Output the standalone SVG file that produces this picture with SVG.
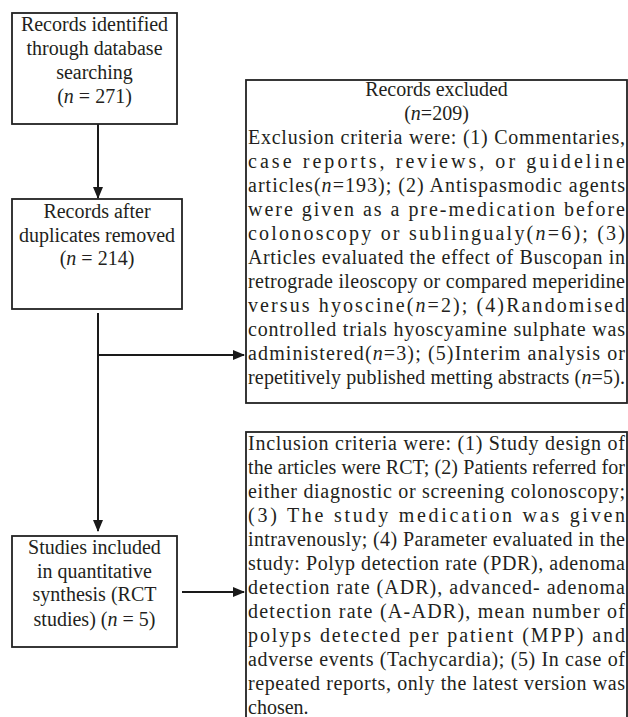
<svg xmlns="http://www.w3.org/2000/svg" width="628" height="717" viewBox="0 0 628 717">
<style>
  .box { fill: #ffffff; stroke: #222222; stroke-width: 1.8; }
  .t { font-family: "Liberation Serif", "Times New Roman", serif; font-size: 20px; fill: #231f20; }
  .c { text-anchor: middle; }
  .i { font-style: italic; }
  .con { stroke: #1a1a1a; stroke-width: 2; fill: none; }
</style>
<defs>
  <marker id="arr" markerUnits="userSpaceOnUse" markerWidth="12" markerHeight="10" refX="11" refY="5" orient="auto">
    <path d="M0,0 L12,5 L0,10 z" fill="#1a1a1a"/>
  </marker>
</defs>
<rect width="628" height="717" fill="#ffffff"/>

<g id="connectors">
  <line class="con" x1="98" y1="124" x2="98" y2="198" marker-end="url(#arr)"/>
  <line class="con" x1="98" y1="313" x2="98" y2="531" marker-end="url(#arr)"/>
  <line class="con" x1="98" y1="355" x2="244" y2="355" marker-end="url(#arr)"/>
  <line class="con" x1="182" y1="592" x2="244" y2="592" marker-end="url(#arr)"/>
</g>

<g id="identified">
  <rect class="box" x="12" y="13" width="165" height="111"/>
  <text class="t c" x="94.5" y="31">Records identified</text>
  <text class="t c" x="94.5" y="55">through database</text>
  <text class="t c" x="94.5" y="79">searching</text>
  <text class="t c" x="94.5" y="103">(<tspan class="i">n</tspan> = 271)</text>
</g>

<g id="after-duplicates">
  <rect class="box" x="12" y="199" width="170" height="110"/>
  <text class="t c" x="97" y="218">Records after</text>
  <text class="t c" x="97" y="242">duplicates removed</text>
  <text class="t c" x="97" y="265">(<tspan class="i">n</tspan> = 214)</text>
</g>

<g id="included">
  <rect class="box" x="12" y="536" width="165" height="111"/>
  <text class="t c" x="94.5" y="554">Studies included</text>
  <text class="t c" x="94.5" y="578">in quantitative</text>
  <text class="t c" x="94.5" y="601">synthesis (RCT</text>
  <text class="t c" x="94.5" y="626">studies) (<tspan class="i">n</tspan> = 5)</text>
</g>

<g id="excluded">
  <rect class="box" x="246" y="80" width="381" height="323"/>
  <text class="t c" x="436.5" y="96">Records excluded</text>
  <text class="t c" x="436.5" y="120">(<tspan class="i">n</tspan>=209)</text>
  <text class="t" x="248" y="144" textLength="377" lengthAdjust="spacing">Exclusion criteria were: (1) Commentaries,</text>
  <text class="t" x="248" y="168" textLength="377" lengthAdjust="spacing">case reports, reviews, or guideline</text>
  <text class="t" x="248" y="192" textLength="377" lengthAdjust="spacing">articles(<tspan class="i">n</tspan>=193); (2) Antispasmodic agents</text>
  <text class="t" x="248" y="216" textLength="377" lengthAdjust="spacing">were given as a pre-medication before</text>
  <text class="t" x="248" y="240" textLength="377" lengthAdjust="spacing">colonoscopy or sublingualy(<tspan class="i">n</tspan>=6); (3)</text>
  <text class="t" x="248" y="264" textLength="377" lengthAdjust="spacing">Articles evaluated the effect of Buscopan in</text>
  <text class="t" x="248" y="288" textLength="377" lengthAdjust="spacing">retrograde ileoscopy or compared meperidine</text>
  <text class="t" x="248" y="312" textLength="377" lengthAdjust="spacing">versus hyoscine(<tspan class="i">n</tspan>=2); (4)Randomised</text>
  <text class="t" x="248" y="336" textLength="377" lengthAdjust="spacing">controlled trials hyoscyamine sulphate was</text>
  <text class="t" x="248" y="360" textLength="377" lengthAdjust="spacing">administered(<tspan class="i">n</tspan>=3); (5)Interim analysis or</text>
  <text class="t" x="248" y="384" textLength="377" lengthAdjust="spacing">repetitively published metting abstracts (<tspan class="i">n</tspan>=5).</text>
</g>

<g id="inclusion">
  <rect class="box" x="246" y="432" width="381" height="300"/>
  <text class="t" x="248" y="450" textLength="377" lengthAdjust="spacing">Inclusion criteria were: (1) Study design of</text>
  <text class="t" x="248" y="474" textLength="377" lengthAdjust="spacing">the articles were RCT; (2) Patients referred for</text>
  <text class="t" x="248" y="498" textLength="377" lengthAdjust="spacing">either diagnostic or screening colonoscopy;</text>
  <text class="t" x="248" y="522" textLength="377" lengthAdjust="spacing">(3) The study medication was given</text>
  <text class="t" x="248" y="546" textLength="377" lengthAdjust="spacing">intravenously; (4) Parameter evaluated in the</text>
  <text class="t" x="248" y="570" textLength="377" lengthAdjust="spacing">study: Polyp detection rate (PDR), adenoma</text>
  <text class="t" x="248" y="594" textLength="377" lengthAdjust="spacing">detection rate (ADR), advanced- adenoma</text>
  <text class="t" x="248" y="618" textLength="377" lengthAdjust="spacing">detection rate (A-ADR), mean number of</text>
  <text class="t" x="248" y="642" textLength="377" lengthAdjust="spacing">polyps detected per patient (MPP) and</text>
  <text class="t" x="248" y="666" textLength="377" lengthAdjust="spacing">adverse events (Tachycardia); (5) In case of</text>
  <text class="t" x="248" y="690" textLength="377" lengthAdjust="spacing">repeated reports, only the latest version was</text>
  <text class="t" x="248" y="714">chosen.</text>
</g>
</svg>
